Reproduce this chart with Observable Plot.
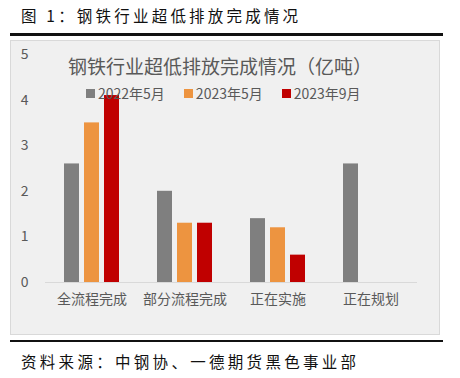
<!DOCTYPE html>
<html>
<head>
<meta charset="utf-8">
<script src="https://cdn.jsdelivr.net/npm/d3@7"></script>
<script src="https://cdn.jsdelivr.net/npm/@observablehq/plot@0.6"></script>
<style>
  html, body { margin: 0; padding: 0; background: #ffffff; }
  body { width: 460px; height: 378px; position: relative; overflow: hidden; font-family: "Noto Sans CJK SC", "Noto Sans", sans-serif; }
  #hdr { position: absolute; left: 21px; top: 4px; font-size: 15.5px; letter-spacing: 3.2px; color: #111; line-height: 22px; white-space: nowrap; }
  #topline { position: absolute; left: 10px; top: 33px; width: 433px; height: 2.5px; background: #111; }
  #panel { position: absolute; left: 10px; top: 40px; width: 430px; height: 295px; box-sizing: border-box; background: #f0f0f0; border: 1px solid #d9d9d9; }
  #chart { position: absolute; left: 10px; top: 40px; }
  #ctitle { position: absolute; left: 0; width: 440px; top: 54px; text-align: center; font-size: 19px; color: #595959; line-height: 24px; white-space: nowrap; }
  #legend { position: absolute; left: 86px; top: 83px; display: flex; gap: 19px; font-size: 14px; color: #595959; line-height: 20px; white-space: nowrap; }
  #legend .item { display: flex; align-items: center; }
  #legend .sw { width: 9px; height: 9px; margin-right: 3px; }
  #botline { position: absolute; left: 10px; top: 340px; width: 433px; height: 2px; background: #111; }
  #src { position: absolute; left: 21px; top: 350px; font-size: 15.5px; letter-spacing: 3.3px; color: #111; line-height: 22px; white-space: nowrap; }
</style>
</head>
<body>
<div id="hdr">图 1：钢铁行业超低排放完成情况</div>
<div id="topline"></div>
<div id="panel"></div>
<div id="chart"></div>
<div id="ctitle">钢铁行业超低排放完成情况（亿吨）</div>
<div id="legend"></div>
<div id="botline"></div>
<div id="src">资料来源：中钢协、一德期货黑色事业部</div>
<script>
const categories = ["全流程完成", "部分流程完成", "正在实施", "正在规划"];
const series = ["2022年5月", "2023年5月", "2023年9月"];
const v2022_5 = [2.6, 2.0, 1.4, 2.6];
const v2023_5 = [3.5, 1.3, 1.2, null];
const v2023_9 = [4.1, 1.3, 0.6, null];
const yTicks = [0, 1, 2, 3, 4, 5];
const colors = ["#7f7f7f", "#ed9440", "#c00000"];

const valuesBySeries = [v2022_5, v2023_5, v2023_9];
const rows = [];
categories.forEach((c, i) => {
  series.forEach((s, j) => {
    const v = valuesBySeries[j][i];
    if (v != null) rows.push({category: c, series: s, value: v});
  });
});

const chart = Plot.plot({
  width: 430,
  height: 295,
  marginLeft: 34,
  marginRight: 23,
  marginTop: 14,
  marginBottom: 53,
  style: {background: "transparent", fontFamily: "'Noto Sans CJK SC', 'Noto Sans', sans-serif", fontSize: "14px", color: "#595959"},
  fx: {domain: categories, padding: 0, label: null, axis: "bottom", tickSize: 0, tickPadding: 12},
  x: {domain: series, axis: null, paddingInner: 0.226, paddingOuter: 0.87},
  y: {domain: [0, 5], ticks: yTicks, tickFormat: d3.format("d"), tickSize: 0, tickPadding: 17, label: null},
  color: {domain: series, range: colors},
  marks: [
    Plot.barY(rows, {fx: "category", x: "series", y: "value", fill: "series"}),
    Plot.ruleY([0], {stroke: "#d9d9d9", strokeWidth: 1})
  ]
});
document.getElementById("chart").appendChild(chart);

const legend = document.getElementById("legend");
series.forEach((s, j) => {
  const item = document.createElement("div");
  item.className = "item";
  const sw = document.createElement("span");
  sw.className = "sw";
  sw.style.background = colors[j];
  const t = document.createElement("span");
  t.textContent = s;
  item.appendChild(sw);
  item.appendChild(t);
  legend.appendChild(item);
});
</script>
</body>
</html>
